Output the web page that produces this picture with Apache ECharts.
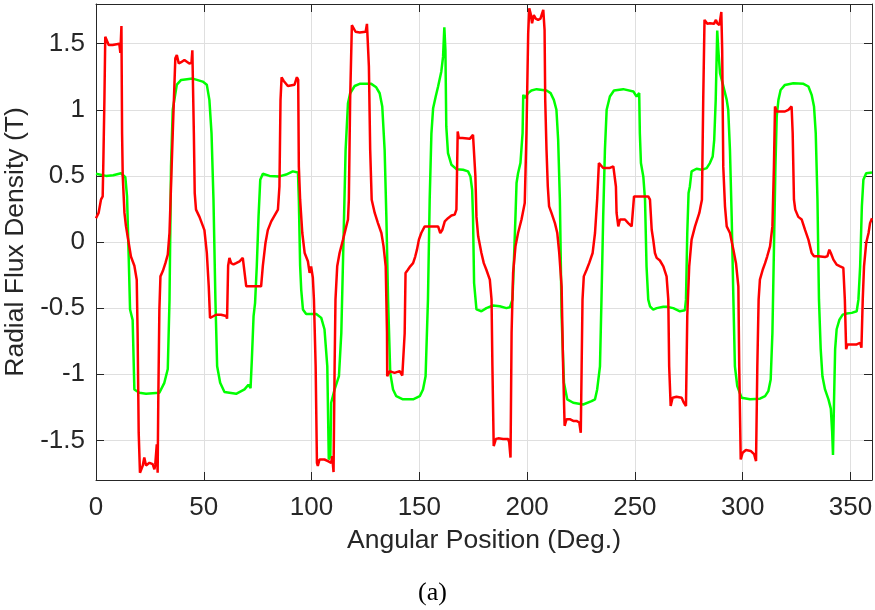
<!DOCTYPE html>
<html><head><meta charset="utf-8">
<script src="https://cdn.jsdelivr.net/npm/echarts@6/dist/echarts.min.js"></script>
<style>html,body{margin:0;padding:0;background:#fff}#c{width:875px;height:610px}</style>
</head><body><div id="c"></div>
<script>
// Green trace (angle in deg, radial flux density in T)
const angleGreen = [0.0,4.6,8.0,11.6,12.4,13.6,14.4,15.2,15.8,17.0,17.8,18.6,20.1,23.2,29.4,30.2,31.7,33.3,34.1,34.8,35.6,37.5,39.5,44.9,49.5,51.4,52.6,53.6,54.5,55.4,56.2,57.6,59.6,65.0,68.9,70.7,71.7,72.3,73.1,73.8,74.6,75.4,76.2,77.4,80.5,85.1,88.2,91.3,93.7,94.1,94.7,95.2,96.0,97.5,102.2,104.5,106.0,107.3,108.0,108.7,109.1,110.7,112.7,113.8,114.9,115.8,116.9,117.9,120.0,122.3,127.7,130.0,131.6,132.8,133.9,134.7,135.5,136.5,137.8,139.3,142.4,147.1,150.2,151.7,152.9,154.0,154.8,155.6,156.4,157.6,158.7,160.2,161.0,161.6,162.1,162.5,163.3,164.9,167.2,170.3,172.6,173.7,174.5,174.9,175.4,176.5,178.8,181.1,184.2,187.3,190.4,192.0,193.2,193.8,194.6,195.1,195.8,196.9,197.9,198.2,198.9,200.5,202.0,204.4,209.0,210.9,212.4,213.6,214.4,215.2,216.0,217.1,218.6,221.4,226.0,229.9,231.5,232.5,233.8,234.5,235.3,236.1,236.9,238.4,240.3,244.6,249.3,250.8,251.6,252.0,252.3,252.8,253.9,254.7,255.4,256.2,257.0,258.5,260.1,263.2,264.7,267.8,270.9,273.2,273.7,274.3,274.9,275.5,276.3,278.6,281.0,283.3,284.8,286.1,286.8,287.5,287.9,288.2,288.7,289.5,290.7,292.6,293.3,294.1,294.9,295.7,296.4,297.5,299.5,303.4,308.0,310.4,311.9,313.0,313.8,314.5,315.2,315.8,316.6,317.6,319.6,323.5,328.2,330.5,332.0,333.1,333.9,334.7,335.4,336.2,337.0,338.2,339.8,340.9,341.5,341.9,342.4,342.9,343.6,344.9,346.4,348.3,350.6,352.9,353.7,354.5,355.3,356.0,357.3,360.0];
const fluxGreen = [0.516,0.50,0.505,0.52,0.515,0.49,0.345,-0.13,-0.51,-0.59,-1.115,-1.105,-1.14,-1.148,-1.14,-1.13,-1.065,-0.96,-0.44,0.57,1.0,1.19,1.226,1.236,1.213,1.19,1.075,0.82,0.32,-0.44,-0.94,-1.065,-1.135,-1.148,-1.115,-1.08,-1.105,-0.89,-0.56,-0.46,-0.18,0.19,0.47,0.516,0.50,0.496,0.51,0.534,0.526,0.32,-0.18,-0.36,-0.51,-0.544,-0.544,-0.574,-0.66,-0.94,-1.645,-1.62,-1.216,-1.115,-1.015,-0.69,0.068,0.697,1.05,1.125,1.18,1.196,1.196,1.17,1.125,1.025,0.697,0.194,-0.436,-0.99,-1.115,-1.166,-1.19,-1.19,-1.166,-1.115,-1.015,-0.436,0.32,0.82,1.012,1.1,1.176,1.29,1.40,1.624,1.45,0.874,0.672,0.584,0.551,0.546,0.534,0.496,0.395,0.19,-0.31,-0.51,-0.524,-0.5,-0.48,-0.486,-0.5,-0.494,-0.436,-0.184,0.194,0.446,0.52,0.597,0.823,1.113,1.088,1.126,1.146,1.156,1.146,1.126,1.075,1.0,0.773,0.32,-0.56,-1.065,-1.19,-1.216,-1.229,-1.204,-1.19,-1.115,-0.94,-0.436,0.194,0.697,1.0,1.1,1.146,1.156,1.138,1.1,1.088,1.126,0.823,0.597,0.496,0.32,-0.184,-0.436,-0.486,-0.511,-0.5,-0.49,-0.49,-0.5,-0.524,-0.516,-0.436,0.068,0.37,0.42,0.534,0.554,0.546,0.559,0.597,0.647,0.773,1.075,1.377,1.6,1.453,1.276,1.2,1.075,1.0,0.697,0.194,-0.436,-0.94,-1.09,-1.178,-1.19,-1.185,-1.166,-1.128,-1.04,-0.687,-0.058,0.57,0.95,1.075,1.15,1.188,1.2,1.196,1.176,1.113,1.025,0.823,0.32,-0.436,-0.81,-1.015,-1.115,-1.19,-1.26,-1.43,-1.61,-1.19,-0.81,-0.66,-0.587,-0.549,-0.541,-0.536,-0.524,-0.436,-0.184,0.27,0.47,0.52,0.526];

// Red trace
const angleRed = [0.0,1.2,2.3,3.1,3.4,3.9,4.3,4.9,5.9,7.7,10.8,11.3,11.8,12.1,12.4,13.2,13.9,15.2,16.2,17.8,18.9,19.3,19.8,20.4,21.0,21.7,22.4,23.2,24.8,26.3,27.1,27.5,28.2,28.6,28.9,29.4,29.9,31.0,32.2,33.3,34.1,34.8,35.6,36.4,36.8,37.5,38.4,39.5,41.0,43.3,44.3,44.7,45.0,45.4,45.8,46.4,48.0,50.3,51.4,52.3,52.9,53.7,55.7,58.0,60.4,60.8,61.3,61.9,62.7,63.8,65.0,66.6,68.1,69.0,69.7,71.2,74.3,76.6,77.4,78.6,79.7,81.3,82.0,84.4,85.1,85.6,86.1,87.0,89.0,92.1,93.2,93.8,94.1,94.7,95.7,96.8,98.3,99.1,99.8,100.6,101.1,101.9,102.5,102.9,103.7,104.5,106.0,107.6,108.4,109.1,109.6,110.2,110.7,111.1,111.9,113.0,114.6,116.1,116.9,117.3,117.9,118.7,119.5,120.4,122.3,125.1,125.7,126.3,126.6,127.2,127.9,129.3,130.8,132.4,133.4,134.4,135.0,135.1,136.2,138.5,140.9,142.1,142.7,143.2,143.6,144.7,145.8,147.1,148.1,148.9,149.8,150.9,152.5,154.8,158.7,159.7,160.7,161.8,163.3,164.9,166.4,167.2,167.8,168.3,170.0,173.4,174.9,175.5,176.0,176.5,177.3,178.8,179.9,181.1,182.7,183.5,183.9,184.5,185.5,186.6,188.9,191.2,191.7,192.3,192.8,193.5,194.6,195.8,197.4,198.9,199.7,200.5,201.0,201.6,202.3,203.1,204.0,205.1,206.2,207.0,207.5,208.1,208.4,209.0,209.6,210.2,211.3,212.9,214.0,214.9,216.0,216.7,217.4,218.3,219.8,221.4,222.9,224.2,224.9,225.3,225.7,226.3,227.6,228.8,230.4,231.5,232.5,233.3,233.8,235.3,238.4,240.0,240.9,241.2,241.5,242.3,243.1,243.8,245.4,246.9,248.5,249.3,249.6,250.8,253.9,256.2,257.0,257.8,258.5,259.3,260.1,261.6,263.2,264.7,265.5,265.9,266.6,267.5,269.3,271.7,272.7,273.7,274.3,275.2,276.3,277.9,278.9,279.9,280.5,281.1,281.7,282.3,282.8,283.6,284.8,286.7,287.6,288.2,289.2,290.1,290.5,291.0,291.8,292.6,294.1,295.7,296.9,298.0,298.4,299.1,300.0,301.5,303.7,305.3,306.2,306.8,307.4,308.0,309.3,310.4,311.4,312.7,313.8,314.5,315.0,315.8,317.3,319.6,321.2,322.7,323.2,323.8,324.4,325.8,327.4,328.9,330.5,332.0,333.1,335.1,338.2,339.3,340.2,340.9,342.1,343.6,345.2,346.7,347.4,348.0,348.6,350.6,352.9,354.5,355.1,355.7,356.3,357.3,358.4,359.1,360.0];
const fluxRed = [0.18,0.22,0.32,0.345,0.6,1.075,1.553,1.54,1.49,1.49,1.50,1.43,1.634,0.82,0.5,0.22,0.12,-0.01,-0.11,-0.18,-0.285,-0.69,-1.44,-1.745,-1.757,-1.69,-1.63,-1.69,-1.67,-1.68,-1.72,-1.68,-1.53,-1.745,-1.19,-0.51,-0.26,-0.22,-0.16,-0.095,0.07,0.42,0.82,1.2,1.39,1.415,1.35,1.36,1.377,1.35,1.355,1.45,1.46,0.82,0.37,0.245,0.19,0.09,-0.08,-0.335,-0.575,-0.585,-0.55,-0.55,-0.56,-0.58,-0.18,-0.12,-0.16,-0.17,-0.16,-0.146,-0.12,-0.12,-0.335,-0.335,-0.335,-0.335,-0.18,-0.01,0.09,0.156,0.17,0.245,0.42,1.075,1.246,1.22,1.18,1.19,1.246,1.226,0.57,0.32,0.068,-0.083,-0.146,-0.234,-0.185,-0.27,-0.436,-0.94,-1.67,-1.694,-1.645,-1.657,-1.645,-1.657,-1.645,-1.67,-1.62,-1.74,-0.94,-0.436,-0.184,-0.083,0.018,0.118,0.17,0.32,1.075,1.64,1.65,1.59,1.585,1.59,1.65,1.66,1.327,0.697,0.32,0.22,0.143,0.068,-0.033,-0.184,-0.687,-1.015,-0.977,-0.99,-0.977,-1.01,-1.015,-0.69,-0.234,-0.21,-0.184,-0.16,-0.11,-0.058,0.018,0.068,0.118,0.118,0.118,0.068,0.093,0.156,0.18,0.2,0.207,0.245,0.836,0.786,0.786,0.78,0.81,0.8,0.5,0.19,0.043,-0.083,-0.16,-0.21,-0.285,-0.436,-0.94,-1.543,-1.49,-1.485,-1.49,-1.49,-1.515,-1.63,-0.687,-0.234,-0.033,0.068,0.17,0.295,0.823,1.578,1.767,1.73,1.654,1.717,1.69,1.68,1.69,1.73,1.755,1.604,1.075,0.697,0.42,0.27,0.22,0.143,0.068,-0.083,-0.335,-0.94,-1.39,-1.34,-1.34,-1.353,-1.353,-1.365,-1.443,-0.94,-0.436,-0.26,-0.21,-0.16,-0.083,0.068,0.32,0.597,0.585,0.56,0.56,0.572,0.584,0.42,0.22,0.118,0.17,0.18,0.17,0.143,0.118,0.123,0.345,0.345,0.345,0.345,0.32,0.093,0.018,-0.083,-0.12,-0.14,-0.184,-0.26,-0.436,-0.94,-1.24,-1.178,-1.17,-1.178,-1.215,-1.24,-0.56,-0.184,0.018,0.118,0.17,0.22,0.27,0.32,1.075,1.68,1.69,1.65,1.654,1.65,1.68,1.654,1.64,1.74,1.45,0.57,0.27,0.118,0.068,-0.058,-0.16,-0.335,-0.94,-1.644,-1.594,-1.573,-1.58,-1.605,-1.657,-0.94,-0.436,-0.285,-0.21,-0.16,-0.108,-0.033,0.118,0.57,1.025,0.987,0.987,0.987,1.0,1.025,0.823,0.32,0.245,0.19,0.17,0.093,0.018,-0.083,-0.108,-0.108,-0.113,-0.108,-0.058,-0.083,-0.133,-0.171,-0.184,-0.196,-0.436,-0.81,-0.775,-0.775,-0.775,-0.762,-0.8,-0.436,-0.184,-0.008,0.068,0.143,0.18];

const xTicks = [0, 50, 100, 150, 200, 250, 300, 350];
const yTicks = [-1.5, -1, -0.5, 0, 0.5, 1, 1.5];
const xTitle = 'Angular Position (Deg.)';
const yTitle = 'Radial Flux Density (T)';
const caption = '(a)';

const pairs = (xs, ys) => xs.map((x, i) => [x, ys[i]]);
const ink = '#262626';
const font = 'Liberation Sans, Arial, Helvetica, sans-serif';

const chart = echarts.init(document.getElementById('c'), null, {renderer: 'canvas'});
const axisCommon = {
  type: 'value',
  axisLine: {show: true, onZero: false, lineStyle: {color: ink, width: 1}},
  axisTick: {show: true, inside: true, length: 8, lineStyle: {color: ink, width: 1}}
};
chart.setOption({
  animation: false,
  backgroundColor: '#ffffff',
  grid: {left: 96, top: 4, width: 776, height: 476, containLabel: false, outerBoundsMode: 'none'},
  xAxis: [
    Object.assign({}, axisCommon, {
      min: 0, max: 360, position: 'bottom',
      axisTick: Object.assign({}, axisCommon.axisTick, {customValues: xTicks}),
      axisLabel: {customValues: xTicks, color: ink, fontSize: 26, fontFamily: font, margin: 15},
      splitLine: {show: true, lineStyle: {color: '#dfdfdf', width: 1}},
      name: xTitle, nameLocation: 'middle', nameGap: 47,
      nameTextStyle: {color: ink, fontSize: 26.5, fontFamily: font}
    }),
    Object.assign({}, axisCommon, {
      min: 0, max: 360, position: 'top',
      axisTick: Object.assign({}, axisCommon.axisTick, {customValues: xTicks}),
      axisLabel: {show: false}, splitLine: {show: false}
    })
  ],
  yAxis: [
    Object.assign({}, axisCommon, {
      min: -1.8, max: 1.8, position: 'left',
      axisTick: Object.assign({}, axisCommon.axisTick, {customValues: yTicks}),
      axisLabel: {customValues: yTicks, color: ink, fontSize: 26, fontFamily: font, margin: 11},
      splitLine: {show: true, lineStyle: {color: '#dfdfdf', width: 1}},
      name: yTitle, nameLocation: 'middle', nameGap: 59,
      nameTextStyle: {color: ink, fontSize: 26.5, fontFamily: font}
    }),
    Object.assign({}, axisCommon, {
      min: -1.8, max: 1.8, position: 'right',
      axisTick: Object.assign({}, axisCommon.axisTick, {customValues: yTicks}),
      axisLabel: {show: false}, splitLine: {show: false}
    })
  ],
  graphic: [{
    type: 'text', left: 418, top: 580,
    style: {text: caption, fill: '#000', font: '26px "Liberation Serif", "Times New Roman", serif'}
  }],
  series: [
    {type: 'line', name: 'green', data: pairs(angleGreen, fluxGreen), showSymbol: false,
     lineStyle: {color: '#00ff00', width: 2.5}, itemStyle: {color: '#00ff00'}, z: 2},
    {type: 'line', name: 'red', data: pairs(angleRed, fluxRed), showSymbol: false,
     lineStyle: {color: '#ff0000', width: 2.5}, itemStyle: {color: '#ff0000'}, z: 3}
  ]
});
</script>
</body></html>
